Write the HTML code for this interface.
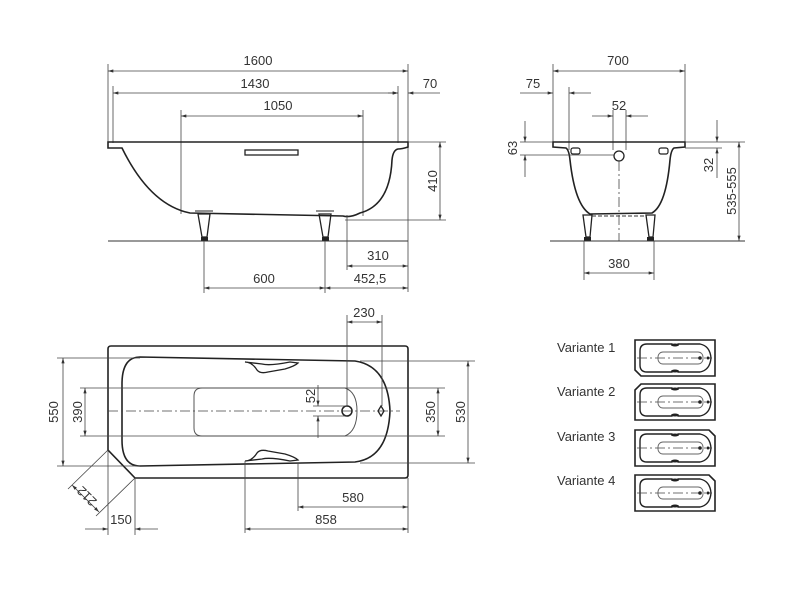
<!DOCTYPE html>
<html><head><meta charset="utf-8"><style>
html,body{margin:0;padding:0;background:#fff}
svg{display:block}
text{font-family:"Liberation Sans",sans-serif;font-size:13px;fill:#333}
.d{stroke:#444;stroke-width:0.8;fill:none}
.o{stroke:#222;stroke-width:1.6;fill:none}
.c{stroke:#444;stroke-width:0.8;fill:none;stroke-dasharray:10 3 2 3}
</style></head><body>
<svg width="800" height="600" viewBox="0 0 800 600" xmlns="http://www.w3.org/2000/svg">
<defs>
<marker id="a" viewBox="0 0 10 6" refX="10" refY="3" markerWidth="7" markerHeight="4" orient="auto-start-reverse"><path d="M0,0L10,3L0,6z" fill="#333"/></marker>
</defs>

<!-- ===== SIDE VIEW ===== -->
<g>
<line class="d" x1="108" y1="64" x2="108" y2="143"/>
<line class="d" x1="408" y1="64" x2="408" y2="292"/>
<line class="d" x1="113" y1="86" x2="113" y2="143"/>
<line class="d" x1="398" y1="86" x2="398" y2="143"/>
<line class="d" x1="181" y1="110" x2="181" y2="214"/>
<line class="d" x1="363" y1="110" x2="363" y2="216"/>
<line class="d" x1="108" y1="71" x2="408" y2="71" marker-start="url(#a)" marker-end="url(#a)"/>
<text x="258" y="65" text-anchor="middle">1600</text>
<line class="d" x1="113" y1="93" x2="398" y2="93" marker-start="url(#a)" marker-end="url(#a)"/>
<text x="255" y="88" text-anchor="middle">1430</text>
<line class="d" x1="388" y1="93" x2="398" y2="93" marker-end="url(#a)"/>
<line class="d" x1="440" y1="93" x2="408" y2="93" marker-end="url(#a)"/>
<text x="430" y="88" text-anchor="middle">70</text>
<line class="d" x1="181" y1="116" x2="363" y2="116" marker-start="url(#a)" marker-end="url(#a)"/>
<text x="278" y="110" text-anchor="middle">1050</text>
<!-- tub -->
<path class="o" d="M108,142 L408,142 L408,147 Q402,149 398,149 Q393,150 392,160 Q390,205 360,213 Q350,218 343,216 L190,213 Q150,205 122,148 L108,148 Z"/>
<rect x="245" y="150" width="53" height="5" fill="none" stroke="#222" stroke-width="1.3"/>
<!-- feet -->
<path d="M198,214 L210,214 L207,237 L202,237 Z" fill="none" stroke="#222" stroke-width="1.3"/>
<rect x="201" y="237" width="7" height="4" fill="#222"/>
<path d="M319,214 L331,214 L328,237 L323,237 Z" fill="none" stroke="#222" stroke-width="1.3"/>
<rect x="322" y="237" width="7" height="4" fill="#222"/>
<line x1="195" y1="211" x2="213" y2="211" stroke="#222" stroke-width="1"/>
<line x1="316" y1="211" x2="334" y2="211" stroke="#222" stroke-width="1"/>
<line x1="108" y1="241" x2="408" y2="241" stroke="#333" stroke-width="1"/>
<!-- 410 -->
<line class="d" x1="408" y1="142" x2="446" y2="142"/>
<line class="d" x1="345" y1="220" x2="446" y2="220"/>
<line class="d" x1="440" y1="142" x2="440" y2="220" marker-start="url(#a)" marker-end="url(#a)"/>
<text transform="translate(437,181) rotate(-90)" text-anchor="middle">410</text>
<!-- 310 / 600 / 452,5 -->
<line class="d" x1="347" y1="215" x2="347" y2="270"/>
<line class="d" x1="347" y1="266" x2="408" y2="266" marker-start="url(#a)" marker-end="url(#a)"/>
<text x="378" y="260" text-anchor="middle">310</text>
<line class="d" x1="204" y1="241" x2="204" y2="293"/>
<line class="d" x1="325" y1="241" x2="325" y2="293"/>
<line class="d" x1="204" y1="288" x2="325" y2="288" marker-start="url(#a)" marker-end="url(#a)"/>
<line class="d" x1="325" y1="288" x2="408" y2="288" marker-start="url(#a)" marker-end="url(#a)"/>
<text x="264" y="283" text-anchor="middle">600</text>
<text x="370" y="283" text-anchor="middle">452,5</text>
</g>

<!-- ===== FRONT VIEW ===== -->
<g>
<line class="d" x1="553" y1="64" x2="553" y2="142"/>
<line class="d" x1="685" y1="64" x2="685" y2="142"/>
<line class="d" x1="553" y1="71" x2="685" y2="71" marker-start="url(#a)" marker-end="url(#a)"/>
<text x="618" y="65" text-anchor="middle">700</text>
<line class="d" x1="569" y1="87" x2="569" y2="150"/>
<line class="d" x1="520" y1="93" x2="553" y2="93" marker-end="url(#a)"/>
<line class="d" x1="591" y1="93" x2="569" y2="93" marker-end="url(#a)"/>
<text x="533" y="88" text-anchor="middle">75</text>
<line class="d" x1="613" y1="110" x2="613" y2="150"/>
<line class="d" x1="626" y1="110" x2="626" y2="150"/>
<line class="d" x1="592" y1="116" x2="613" y2="116" marker-end="url(#a)"/>
<line class="d" x1="648" y1="116" x2="626" y2="116" marker-end="url(#a)"/>
<text x="619" y="110" text-anchor="middle">52</text>
<path class="o" d="M553,142 L685,142 L685,147 L674,148 Q671,150 670,160 Q666,205 652,213 L590,214 Q575,205 570,160 Q569,150 566,148 L553,147 Z"/>
<rect x="571" y="148" width="9" height="6" rx="2" fill="none" stroke="#222" stroke-width="1.2"/>
<rect x="659" y="148" width="9" height="6" rx="2" fill="none" stroke="#222" stroke-width="1.2"/>
<circle cx="619" cy="156" r="5" fill="none" stroke="#222" stroke-width="1.3"/>
<line class="c" x1="619" y1="161" x2="619" y2="241"/>
<path d="M583,215 L592,215 L590,237 L586,237 Z" fill="none" stroke="#222" stroke-width="1.3"/>
<rect x="584" y="237" width="7" height="4" fill="#222"/>
<path d="M646,215 L655,215 L653,237 L649,237 Z" fill="none" stroke="#222" stroke-width="1.3"/>
<rect x="647" y="237" width="7" height="4" fill="#222"/>
<line x1="592" y1="216" x2="646" y2="216" stroke="#333" stroke-width="1" stroke-dasharray="4 2"/>
<line x1="550" y1="241" x2="745" y2="241" stroke="#333" stroke-width="1"/>
<!-- 63 -->
<line class="d" x1="520" y1="142" x2="553" y2="142"/>
<line class="d" x1="520" y1="155" x2="614" y2="155"/>
<line class="d" x1="525" y1="121" x2="525" y2="142" marker-end="url(#a)"/>
<line class="d" x1="525" y1="177" x2="525" y2="155" marker-end="url(#a)"/>
<text transform="translate(517,148) rotate(-90)" text-anchor="middle">63</text>
<!-- 32 -->
<line class="d" x1="685" y1="148" x2="722" y2="148"/>
<line class="d" x1="717" y1="120" x2="717" y2="142" marker-end="url(#a)"/>
<line class="d" x1="717" y1="178" x2="717" y2="148" marker-end="url(#a)"/>
<text transform="translate(713,165) rotate(-90)" text-anchor="middle">32</text>
<!-- 535-555 -->
<line class="d" x1="685" y1="142" x2="745" y2="142"/>
<line class="d" x1="739" y1="142" x2="739" y2="241" marker-start="url(#a)" marker-end="url(#a)"/>
<text transform="translate(736,191) rotate(-90)" text-anchor="middle">535-555</text>
<!-- 380 -->
<line class="d" x1="584" y1="241" x2="584" y2="280"/>
<line class="d" x1="654" y1="241" x2="654" y2="280"/>
<line class="d" x1="584" y1="273" x2="654" y2="273" marker-start="url(#a)" marker-end="url(#a)"/>
<text x="619" y="268" text-anchor="middle">380</text>
</g>

<!-- ===== TOP VIEW ===== -->
<g>
<path class="o" d="M111,346 L405,346 Q408,346 408,349 L408,475 Q408,478 405,478 L135,478 L108,450 L108,349 Q108,346 111,346 Z"/>
<path class="o" d="M140,357 L355,361 Q388,366 390,411 Q388,458 355,462 L140,466 Q122,466 122,440 L122,384 Q122,357 140,357 Z"/>
<path d="M202,388 L345,388 Q357,392 357,411 Q357,431 345,436 L202,436 Q194,436 194,428 L194,396 Q194,388 202,388 Z" fill="none" stroke="#555" stroke-width="1"/>
<path d="M245,362 Q252,362 257,370 Q260,374 268,372 L285,369 Q295,366 298,363 L290,362 Q270,366 262,364 Z" fill="none" stroke="#222" stroke-width="1.3"/>
<path d="M245,461 Q252,461 257,453 Q260,449 268,451 L285,454 Q295,457 298,460 L290,461 Q270,457 262,459 Z" fill="none" stroke="#222" stroke-width="1.3"/>
<line class="c" x1="108" y1="411" x2="400" y2="411"/>
<circle cx="347" cy="411" r="5" fill="none" stroke="#222" stroke-width="1.5"/>
<path d="M381,406 L384,411 L381,416 L378,411 Z" fill="none" stroke="#222" stroke-width="1.3"/>
<!-- 230 -->
<line class="d" x1="347" y1="315" x2="347" y2="406"/>
<line class="d" x1="382" y1="315" x2="382" y2="406"/>
<line class="d" x1="347" y1="322" x2="382" y2="322" marker-start="url(#a)" marker-end="url(#a)"/>
<text x="364" y="317" text-anchor="middle">230</text>
<!-- 550 -->
<line class="d" x1="57" y1="358" x2="140" y2="358"/>
<line class="d" x1="57" y1="466" x2="140" y2="466"/>
<line class="d" x1="63" y1="358" x2="63" y2="466" marker-start="url(#a)" marker-end="url(#a)"/>
<text transform="translate(58,412) rotate(-90)" text-anchor="middle">550</text>
<!-- 390 -->
<line class="d" x1="80" y1="388" x2="445" y2="388"/>
<line class="d" x1="80" y1="436" x2="445" y2="436"/>
<line class="d" x1="85" y1="388" x2="85" y2="436" marker-start="url(#a)" marker-end="url(#a)"/>
<text transform="translate(82,412) rotate(-90)" text-anchor="middle">390</text>
<!-- 350 -->
<line class="d" x1="438" y1="388" x2="438" y2="436" marker-start="url(#a)" marker-end="url(#a)"/>
<text transform="translate(435,412) rotate(-90)" text-anchor="middle">350</text>
<!-- 530 -->
<line class="d" x1="360" y1="361" x2="475" y2="361"/>
<line class="d" x1="360" y1="463" x2="475" y2="463"/>
<line class="d" x1="468" y1="361" x2="468" y2="463" marker-start="url(#a)" marker-end="url(#a)"/>
<text transform="translate(465,412) rotate(-90)" text-anchor="middle">530</text>
<!-- 52 -->
<line class="d" x1="313" y1="406" x2="347" y2="406"/>
<line class="d" x1="313" y1="416" x2="347" y2="416"/>
<line class="d" x1="318" y1="385" x2="318" y2="406" marker-end="url(#a)"/>
<line class="d" x1="318" y1="438" x2="318" y2="416" marker-end="url(#a)"/>
<text transform="translate(315,396) rotate(-90)" text-anchor="middle">52</text>
<!-- 580 / 858 -->
<line class="d" x1="298" y1="463" x2="298" y2="511"/>
<line class="d" x1="245" y1="461" x2="245" y2="533"/>
<line class="d" x1="408" y1="478" x2="408" y2="533"/>
<line class="d" x1="298" y1="507" x2="408" y2="507" marker-start="url(#a)" marker-end="url(#a)"/>
<text x="353" y="502" text-anchor="middle">580</text>
<line class="d" x1="245" y1="529" x2="408" y2="529" marker-start="url(#a)" marker-end="url(#a)"/>
<text x="326" y="524" text-anchor="middle">858</text>
<!-- 150 -->
<line class="d" x1="108" y1="450" x2="108" y2="535"/>
<line class="d" x1="135" y1="478" x2="135" y2="535"/>
<line class="d" x1="85" y1="529" x2="108" y2="529" marker-end="url(#a)"/>
<line class="d" x1="158" y1="529" x2="135" y2="529" marker-end="url(#a)"/>
<text x="121" y="524" text-anchor="middle">150</text>
<!-- 212 -->
<line class="d" x1="108" y1="450" x2="68" y2="489"/>
<line class="d" x1="135" y1="478" x2="96" y2="516"/>
<line class="d" x1="72" y1="485" x2="99" y2="512" marker-start="url(#a)" marker-end="url(#a)"/>
<text transform="translate(90,493) rotate(225)" text-anchor="middle">212</text>
</g>

<!-- ===== VARIANTS ===== -->
<g>
<text x="557" y="352">Variante 1</text>
<text x="557" y="396">Variante 2</text>
<text x="557" y="441">Variante 3</text>
<text x="557" y="485">Variante 4</text>
<!-- v1 -->
<path class="o" d="M635,340 L715,340 L715,376 L641,376 L635,370 Z"/>
<!-- v2 -->
<path class="o" d="M641,384 L715,384 L715,420 L635,420 L635,390 Z"/>
<!-- v3 -->
<path class="o" d="M635,430 L709,430 L715,436 L715,466 L635,466 Z"/>
<!-- v4 -->
<path class="o" d="M635,475 L709,475 L715,481 L715,511 L635,511 Z"/>
<g id="vin">
<path d="M647,344 L672,344 Q675,347 678,344 L700,344 Q710,346 711,358 Q710,370 700,372 L678,372 Q675,369 672,372 L647,372 Q640,372 640,365 L640,351 Q640,344 647,344 Z" fill="none" stroke="#222" stroke-width="1.4"/>
<rect x="658" y="352" width="45" height="12" rx="5" fill="none" stroke="#666" stroke-width="0.9"/>
<line class="c" x1="637" y1="358" x2="712" y2="358" stroke-dasharray="6 2 2 2"/>
<circle cx="700" cy="358" r="1.8" fill="#222"/>
<circle cx="708" cy="358" r="1.5" fill="#222"/>
<ellipse cx="675" cy="345" rx="4" ry="1.5" fill="#222"/>
<ellipse cx="675" cy="371" rx="4" ry="1.5" fill="#222"/>
</g>
<use href="#vin" transform="translate(0,44)"/>
<use href="#vin" transform="translate(0,90)"/>
<use href="#vin" transform="translate(0,135)"/>
</g>
</svg>
</body></html>
